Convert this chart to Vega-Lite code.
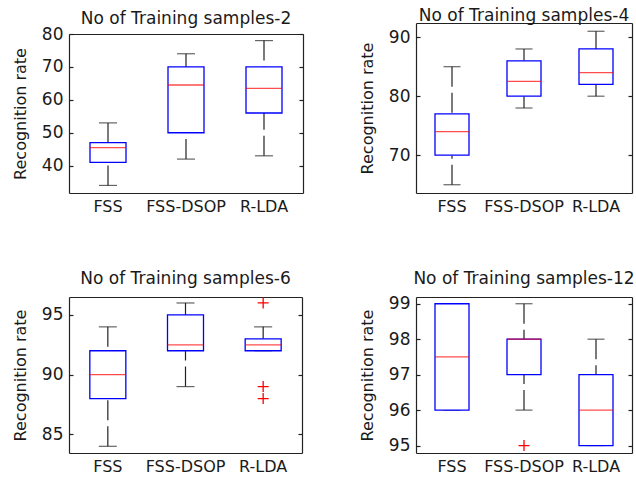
{
  "$schema": "https://vega.github.io/schema/vega-lite/v6.json",
  "background": "white",
  "padding": {"left": 12, "top": 7, "right": 0, "bottom": 0},
  "datasets": {
    "box": [
      {"p": 2, "m": "FSS", "lo": 34, "q1": 41, "med": 45.5, "q3": 47, "hi": 53},
      {"p": 2, "m": "FSS-DSOP", "lo": 42, "q1": 50, "med": 64.5, "q3": 70, "hi": 74},
      {"p": 2, "m": "R-LDA", "lo": 43, "q1": 56, "med": 63.5, "q3": 70, "hi": 78},
      {"p": 4, "m": "FSS", "lo": 65, "q1": 70, "med": 74, "q3": 77, "hi": 85},
      {"p": 4, "m": "FSS-DSOP", "lo": 78, "q1": 80, "med": 82.5, "q3": 86, "hi": 88},
      {"p": 4, "m": "R-LDA", "lo": 80, "q1": 82, "med": 84, "q3": 88, "hi": 91},
      {"p": 6, "m": "FSS", "lo": 84, "q1": 88, "med": 90, "q3": 92, "hi": 94},
      {"p": 6, "m": "FSS-DSOP", "lo": 89, "q1": 92, "med": 92.5, "q3": 95, "hi": 96},
      {"p": 6, "m": "R-LDA", "lo": 92, "q1": 92, "med": 92.5, "q3": 93, "hi": 94},
      {"p": 6, "m": "R-LDA", "out": 96},
      {"p": 6, "m": "R-LDA", "out": 89},
      {"p": 6, "m": "R-LDA", "out": 88},
      {"p": 12, "m": "FSS", "lo": 96, "q1": 96, "med": 97.5, "q3": 99, "hi": 99},
      {"p": 12, "m": "FSS-DSOP", "lo": 96, "q1": 97, "med": 98, "q3": 98, "hi": 99},
      {"p": 12, "m": "FSS-DSOP", "out": 95},
      {"p": 12, "m": "R-LDA", "lo": 95, "q1": 95, "med": 96, "q3": 97, "hi": 98}
    ]
  },
  "spacing": 55,
  "vconcat": [
    {
      "hconcat": [
        {
          "width": 234, "height": 170,
          "title": {"text": "No of Training samples-2", "offset": -5},
          "data": {"name": "box"},
          "transform": [{"filter": "datum.p === 2"}],
          "layer": [
            {"transform": [{"filter": "isValid(datum.lo)"}],
             "mark": {"type": "rule", "color": "#222", "strokeWidth": 1.2, "strokeDash": [20, 6]},
             "encoding": {
               "x": {"field": "m", "type": "nominal", "sort": null, "scale": {"domain": ["FSS", "FSS-DSOP", "R-LDA"], "paddingInner": 0, "paddingOuter": 0}, "axis": {"orient": "bottom", "title": null, "labelAngle": 0, "ticks": false, "labelPadding": 5, "labelFontSize": 16, "domain": true}},
               "y": {"field": "lo", "type": "quantitative", "scale": {"domain": [31.7, 80], "range": [170, 11], "zero": false, "nice": false}, "axis": {"orient": "left", "title": "Recognition rate", "values": [40, 50, 60, 70, 80], "tickSize": -4, "labelPadding": 10, "titlePadding": 13, "domain": true}},
               "y2": {"field": "q1"}}},
            {"transform": [{"filter": "isValid(datum.hi)"}],
             "mark": {"type": "rule", "color": "#222", "strokeWidth": 1.2, "strokeDash": [20, 6]},
             "encoding": {
               "x": {"field": "m", "type": "nominal", "sort": null, "scale": {"domain": ["FSS", "FSS-DSOP", "R-LDA"], "paddingInner": 0, "paddingOuter": 0}, "axis": null},
               "y": {"field": "hi", "type": "quantitative", "scale": {"domain": [31.7, 80], "range": [170, 11], "zero": false, "nice": false}, "axis": null},
               "y2": {"field": "q3"}}},
            {"transform": [{"filter": "isValid(datum.lo)"}],
             "mark": {"type": "tick", "orient": "horizontal", "color": "#222", "size": 18, "thickness": 1.2},
             "encoding": {
               "x": {"field": "m", "type": "nominal", "sort": null, "scale": {"domain": ["FSS", "FSS-DSOP", "R-LDA"], "paddingInner": 0, "paddingOuter": 0}, "axis": null},
               "y": {"field": "lo", "type": "quantitative", "scale": {"domain": [31.7, 80], "range": [170, 11], "zero": false, "nice": false}, "axis": null}}},
            {"transform": [{"filter": "isValid(datum.hi)"}],
             "mark": {"type": "tick", "orient": "horizontal", "color": "#222", "size": 18, "thickness": 1.2},
             "encoding": {
               "x": {"field": "m", "type": "nominal", "sort": null, "scale": {"domain": ["FSS", "FSS-DSOP", "R-LDA"], "paddingInner": 0, "paddingOuter": 0}, "axis": null},
               "y": {"field": "hi", "type": "quantitative", "scale": {"domain": [31.7, 80], "range": [170, 11], "zero": false, "nice": false}, "axis": null}}},
            {"transform": [{"filter": "isValid(datum.q1)"}],
             "mark": {"type": "bar", "width": 36, "fill": "white", "stroke": "#0000ff", "strokeWidth": 1.3},
             "encoding": {
               "x": {"field": "m", "type": "nominal", "sort": null, "scale": {"domain": ["FSS", "FSS-DSOP", "R-LDA"], "paddingInner": 0, "paddingOuter": 0}, "axis": {"orient": "top", "title": null, "labels": false, "ticks": false, "domain": true, "offset": -11}},
               "y": {"field": "q3", "type": "quantitative", "scale": {"domain": [31.7, 80], "range": [170, 11], "zero": false, "nice": false}, "axis": {"orient": "right", "title": null, "labels": false, "values": [40, 50, 60, 70, 80], "tickSize": -4, "domain": true}},
               "y2": {"field": "q1"}}},
            {"transform": [{"filter": "isValid(datum.med)"}],
             "mark": {"type": "tick", "orient": "horizontal", "color": "#ff0000", "size": 36, "thickness": 1.3},
             "encoding": {
               "x": {"field": "m", "type": "nominal", "sort": null, "scale": {"domain": ["FSS", "FSS-DSOP", "R-LDA"], "paddingInner": 0, "paddingOuter": 0}, "axis": null},
               "y": {"field": "med", "type": "quantitative", "scale": {"domain": [31.7, 80], "range": [170, 11], "zero": false, "nice": false}, "axis": null}}}
          ],
          "resolve": {"axis": {"x": "independent", "y": "independent"}}
        },
        {
          "width": 216, "height": 170,
          "title": {"text": "No of Training samples-4", "offset": -2},
          "data": {"name": "box"},
          "transform": [{"filter": "datum.p === 4"}],
          "layer": [
            {"transform": [{"filter": "isValid(datum.lo)"}],
             "mark": {"type": "rule", "color": "#222", "strokeWidth": 1.2, "strokeDash": [20, 6]},
             "encoding": {
               "x": {"field": "m", "type": "nominal", "sort": null, "scale": {"domain": ["FSS", "FSS-DSOP", "R-LDA"], "paddingInner": 0, "paddingOuter": 0}, "axis": {"orient": "bottom", "title": null, "labelAngle": 0, "ticks": false, "labelPadding": 5, "labelFontSize": 16, "domain": true}},
               "y": {"field": "lo", "type": "quantitative", "scale": {"domain": [63.6, 92.4], "zero": false, "nice": false}, "axis": {"orient": "left", "title": "Recognition rate", "values": [70, 80, 90], "tickSize": -4, "labelPadding": 10, "titlePadding": 13, "domain": true}},
               "y2": {"field": "q1"}}},
            {"transform": [{"filter": "isValid(datum.hi)"}],
             "mark": {"type": "rule", "color": "#222", "strokeWidth": 1.2, "strokeDash": [20, 6]},
             "encoding": {
               "x": {"field": "m", "type": "nominal", "sort": null, "scale": {"domain": ["FSS", "FSS-DSOP", "R-LDA"], "paddingInner": 0, "paddingOuter": 0}, "axis": null},
               "y": {"field": "hi", "type": "quantitative", "scale": {"domain": [63.6, 92.4], "zero": false, "nice": false}, "axis": null},
               "y2": {"field": "q3"}}},
            {"transform": [{"filter": "isValid(datum.lo)"}],
             "mark": {"type": "tick", "orient": "horizontal", "color": "#222", "size": 17, "thickness": 1.2},
             "encoding": {
               "x": {"field": "m", "type": "nominal", "sort": null, "scale": {"domain": ["FSS", "FSS-DSOP", "R-LDA"], "paddingInner": 0, "paddingOuter": 0}, "axis": null},
               "y": {"field": "lo", "type": "quantitative", "scale": {"domain": [63.6, 92.4], "zero": false, "nice": false}, "axis": null}}},
            {"transform": [{"filter": "isValid(datum.hi)"}],
             "mark": {"type": "tick", "orient": "horizontal", "color": "#222", "size": 17, "thickness": 1.2},
             "encoding": {
               "x": {"field": "m", "type": "nominal", "sort": null, "scale": {"domain": ["FSS", "FSS-DSOP", "R-LDA"], "paddingInner": 0, "paddingOuter": 0}, "axis": null},
               "y": {"field": "hi", "type": "quantitative", "scale": {"domain": [63.6, 92.4], "zero": false, "nice": false}, "axis": null}}},
            {"transform": [{"filter": "isValid(datum.q1)"}],
             "mark": {"type": "bar", "width": 34, "fill": "white", "stroke": "#0000ff", "strokeWidth": 1.3},
             "encoding": {
               "x": {"field": "m", "type": "nominal", "sort": null, "scale": {"domain": ["FSS", "FSS-DSOP", "R-LDA"], "paddingInner": 0, "paddingOuter": 0}, "axis": {"orient": "top", "title": null, "labels": false, "ticks": false, "domain": true}},
               "y": {"field": "q3", "type": "quantitative", "scale": {"domain": [63.6, 92.4], "zero": false, "nice": false}, "axis": {"orient": "right", "title": null, "labels": false, "values": [70, 80, 90], "tickSize": -4, "domain": true}},
               "y2": {"field": "q1"}}},
            {"transform": [{"filter": "isValid(datum.med)"}],
             "mark": {"type": "tick", "orient": "horizontal", "color": "#ff0000", "size": 34, "thickness": 1.3},
             "encoding": {
               "x": {"field": "m", "type": "nominal", "sort": null, "scale": {"domain": ["FSS", "FSS-DSOP", "R-LDA"], "paddingInner": 0, "paddingOuter": 0}, "axis": null},
               "y": {"field": "med", "type": "quantitative", "scale": {"domain": [63.6, 92.4], "zero": false, "nice": false}, "axis": null}}}
          ],
          "resolve": {"axis": {"x": "independent", "y": "independent"}}
        }
      ],
      "spacing": 113,
      "bounds": "flush"
    },
    {
      "hconcat": [
        {
          "width": 233, "height": 156,
          "title": {"text": "No of Training samples-6", "offset": 7},
          "data": {"name": "box"},
          "transform": [{"filter": "datum.p === 6"}],
          "layer": [
            {"transform": [{"filter": "isValid(datum.lo)"}],
             "mark": {"type": "rule", "color": "#222", "strokeWidth": 1.2, "strokeDash": [20, 6]},
             "encoding": {
               "x": {"field": "m", "type": "nominal", "sort": null, "scale": {"domain": ["FSS", "FSS-DSOP", "R-LDA"], "paddingInner": 0, "paddingOuter": 0}, "axis": {"orient": "bottom", "title": null, "labelAngle": 0, "ticks": false, "labelPadding": 5, "labelFontSize": 16, "domain": true}},
               "y": {"field": "lo", "type": "quantitative", "scale": {"domain": [83.44, 96.5], "zero": false, "nice": false}, "axis": {"orient": "left", "title": "Recognition rate", "values": [85, 90, 95], "tickSize": -4, "labelPadding": 10, "titlePadding": 13, "domain": true}},
               "y2": {"field": "q1"}}},
            {"transform": [{"filter": "isValid(datum.hi)"}],
             "mark": {"type": "rule", "color": "#222", "strokeWidth": 1.2, "strokeDash": [20, 6]},
             "encoding": {
               "x": {"field": "m", "type": "nominal", "sort": null, "scale": {"domain": ["FSS", "FSS-DSOP", "R-LDA"], "paddingInner": 0, "paddingOuter": 0}, "axis": null},
               "y": {"field": "hi", "type": "quantitative", "scale": {"domain": [83.44, 96.5], "zero": false, "nice": false}, "axis": null},
               "y2": {"field": "q3"}}},
            {"transform": [{"filter": "isValid(datum.lo)"}],
             "mark": {"type": "tick", "orient": "horizontal", "color": "#222", "size": 18, "thickness": 1.2},
             "encoding": {
               "x": {"field": "m", "type": "nominal", "sort": null, "scale": {"domain": ["FSS", "FSS-DSOP", "R-LDA"], "paddingInner": 0, "paddingOuter": 0}, "axis": null},
               "y": {"field": "lo", "type": "quantitative", "scale": {"domain": [83.44, 96.5], "zero": false, "nice": false}, "axis": null}}},
            {"transform": [{"filter": "isValid(datum.hi)"}],
             "mark": {"type": "tick", "orient": "horizontal", "color": "#222", "size": 18, "thickness": 1.2},
             "encoding": {
               "x": {"field": "m", "type": "nominal", "sort": null, "scale": {"domain": ["FSS", "FSS-DSOP", "R-LDA"], "paddingInner": 0, "paddingOuter": 0}, "axis": null},
               "y": {"field": "hi", "type": "quantitative", "scale": {"domain": [83.44, 96.5], "zero": false, "nice": false}, "axis": null}}},
            {"transform": [{"filter": "isValid(datum.q1)"}],
             "mark": {"type": "bar", "width": 36, "fill": "white", "stroke": "#0000ff", "strokeWidth": 1.3},
             "encoding": {
               "x": {"field": "m", "type": "nominal", "sort": null, "scale": {"domain": ["FSS", "FSS-DSOP", "R-LDA"], "paddingInner": 0, "paddingOuter": 0}, "axis": {"orient": "top", "title": null, "labels": false, "ticks": false, "domain": true}},
               "y": {"field": "q3", "type": "quantitative", "scale": {"domain": [83.44, 96.5], "zero": false, "nice": false}, "axis": {"orient": "right", "title": null, "labels": false, "values": [85, 90, 95], "tickSize": -4, "domain": true}},
               "y2": {"field": "q1"}}},
            {"transform": [{"filter": "isValid(datum.med)"}],
             "mark": {"type": "tick", "orient": "horizontal", "color": "#ff0000", "size": 36, "thickness": 1.3},
             "encoding": {
               "x": {"field": "m", "type": "nominal", "sort": null, "scale": {"domain": ["FSS", "FSS-DSOP", "R-LDA"], "paddingInner": 0, "paddingOuter": 0}, "axis": null},
               "y": {"field": "med", "type": "quantitative", "scale": {"domain": [83.44, 96.5], "zero": false, "nice": false}, "axis": null}}},
            {"transform": [{"filter": "isValid(datum.out)"}],
             "mark": {"type": "point", "shape": "M-1,0H1M0,-1V1", "filled": false, "stroke": "#ff0000", "strokeWidth": 1.3, "size": 121, "opacity": 1},
             "encoding": {
               "x": {"field": "m", "type": "nominal", "sort": null, "scale": {"domain": ["FSS", "FSS-DSOP", "R-LDA"], "paddingInner": 0, "paddingOuter": 0}, "axis": null},
               "y": {"field": "out", "type": "quantitative", "scale": {"domain": [83.44, 96.5], "zero": false, "nice": false}, "axis": null}}}
          ],
          "resolve": {"axis": {"x": "independent", "y": "independent"}}
        },
        {
          "width": 216, "height": 156,
          "title": {"text": "No of Training samples-12", "offset": 7},
          "data": {"name": "box"},
          "transform": [{"filter": "datum.p === 12"}],
          "layer": [
            {"transform": [{"filter": "isValid(datum.lo)"}],
             "mark": {"type": "rule", "color": "#222", "strokeWidth": 1.2, "strokeDash": [20, 6]},
             "encoding": {
               "x": {"field": "m", "type": "nominal", "sort": null, "scale": {"domain": ["FSS", "FSS-DSOP", "R-LDA"], "paddingInner": 0, "paddingOuter": 0}, "axis": {"orient": "bottom", "title": null, "labelAngle": 0, "ticks": false, "labelPadding": 5, "labelFontSize": 16, "domain": true}},
               "y": {"field": "lo", "type": "quantitative", "scale": {"domain": [94.79, 99.19], "zero": false, "nice": false}, "axis": {"orient": "left", "title": "Recognition rate", "values": [95, 96, 97, 98, 99], "tickSize": -4, "labelPadding": 10, "titlePadding": 13, "domain": true}},
               "y2": {"field": "q1"}}},
            {"transform": [{"filter": "isValid(datum.hi)"}],
             "mark": {"type": "rule", "color": "#222", "strokeWidth": 1.2, "strokeDash": [20, 6]},
             "encoding": {
               "x": {"field": "m", "type": "nominal", "sort": null, "scale": {"domain": ["FSS", "FSS-DSOP", "R-LDA"], "paddingInner": 0, "paddingOuter": 0}, "axis": null},
               "y": {"field": "hi", "type": "quantitative", "scale": {"domain": [94.79, 99.19], "zero": false, "nice": false}, "axis": null},
               "y2": {"field": "q3"}}},
            {"transform": [{"filter": "isValid(datum.lo)"}],
             "mark": {"type": "tick", "orient": "horizontal", "color": "#222", "size": 17, "thickness": 1.2},
             "encoding": {
               "x": {"field": "m", "type": "nominal", "sort": null, "scale": {"domain": ["FSS", "FSS-DSOP", "R-LDA"], "paddingInner": 0, "paddingOuter": 0}, "axis": null},
               "y": {"field": "lo", "type": "quantitative", "scale": {"domain": [94.79, 99.19], "zero": false, "nice": false}, "axis": null}}},
            {"transform": [{"filter": "isValid(datum.hi)"}],
             "mark": {"type": "tick", "orient": "horizontal", "color": "#222", "size": 17, "thickness": 1.2},
             "encoding": {
               "x": {"field": "m", "type": "nominal", "sort": null, "scale": {"domain": ["FSS", "FSS-DSOP", "R-LDA"], "paddingInner": 0, "paddingOuter": 0}, "axis": null},
               "y": {"field": "hi", "type": "quantitative", "scale": {"domain": [94.79, 99.19], "zero": false, "nice": false}, "axis": null}}},
            {"transform": [{"filter": "isValid(datum.q1)"}],
             "mark": {"type": "bar", "width": 34, "fill": "white", "stroke": "#0000ff", "strokeWidth": 1.3},
             "encoding": {
               "x": {"field": "m", "type": "nominal", "sort": null, "scale": {"domain": ["FSS", "FSS-DSOP", "R-LDA"], "paddingInner": 0, "paddingOuter": 0}, "axis": {"orient": "top", "title": null, "labels": false, "ticks": false, "domain": true}},
               "y": {"field": "q3", "type": "quantitative", "scale": {"domain": [94.79, 99.19], "zero": false, "nice": false}, "axis": {"orient": "right", "title": null, "labels": false, "values": [95, 96, 97, 98, 99], "tickSize": -4, "domain": true}},
               "y2": {"field": "q1"}}},
            {"transform": [{"filter": "isValid(datum.med)"}],
             "mark": {"type": "tick", "orient": "horizontal", "color": "#ff0000", "size": 34, "thickness": 1.3},
             "encoding": {
               "x": {"field": "m", "type": "nominal", "sort": null, "scale": {"domain": ["FSS", "FSS-DSOP", "R-LDA"], "paddingInner": 0, "paddingOuter": 0}, "axis": null},
               "y": {"field": "med", "type": "quantitative", "scale": {"domain": [94.79, 99.19], "zero": false, "nice": false}, "axis": null}}},
            {"transform": [{"filter": "isValid(datum.out)"}],
             "mark": {"type": "point", "shape": "M-1,0H1M0,-1V1", "filled": false, "stroke": "#ff0000", "strokeWidth": 1.3, "size": 121, "opacity": 1},
             "encoding": {
               "x": {"field": "m", "type": "nominal", "sort": null, "scale": {"domain": ["FSS", "FSS-DSOP", "R-LDA"], "paddingInner": 0, "paddingOuter": 0}, "axis": null},
               "y": {"field": "out", "type": "quantitative", "scale": {"domain": [94.79, 99.19], "zero": false, "nice": false}, "axis": null}}}
          ],
          "resolve": {"axis": {"x": "independent", "y": "independent"}}
        }
      ],
      "spacing": 114,
      "bounds": "flush"
    }
  ],
  "config": {
    "view": {"stroke": null},
    "font": "DejaVu Sans",
    "axis": {
      "labelFont": "DejaVu Sans", "labelFontSize": 17, "labelColor": "#1a1a1a",
      "titleFont": "DejaVu Sans", "titleFontSize": 16, "titleFontWeight": "normal", "titleColor": "#1a1a1a",
      "domainColor": "#222222", "domainWidth": 1.2, "tickColor": "#222222", "tickWidth": 1.2, "grid": false
    },
    "title": {"font": "DejaVu Sans", "fontSize": 17, "fontWeight": "normal", "color": "#1a1a1a", "baseline": "alphabetic", "frame": "group", "anchor": "middle"}
  }
}
